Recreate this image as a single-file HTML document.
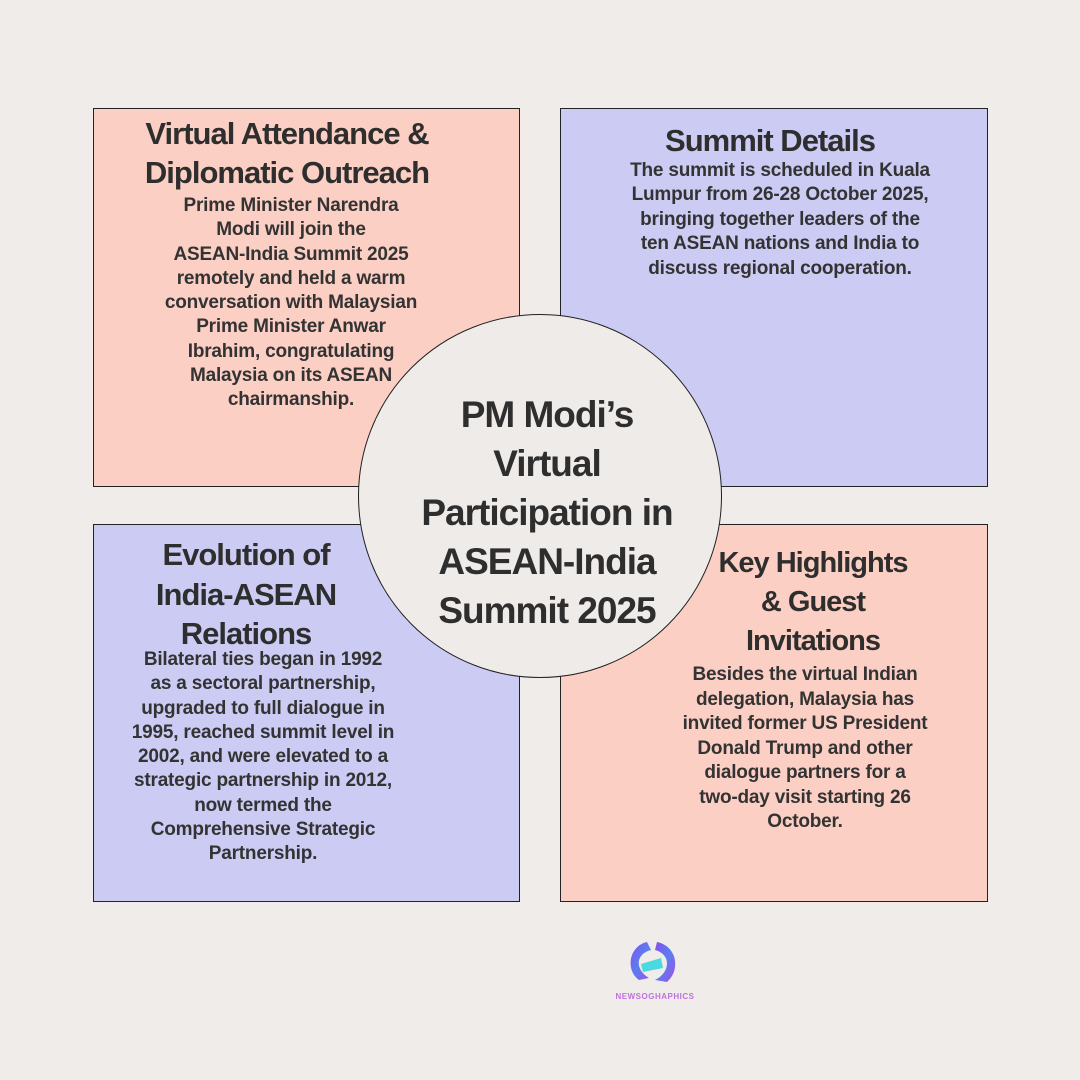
<!DOCTYPE html>
<html><head><meta charset="utf-8"><style>
body{margin:0;width:1080px;height:1080px;background:#f0ecea;position:relative;overflow:hidden;font-family:"Liberation Sans",sans-serif;color:#333}
.box{position:absolute;border:1px solid #222;box-sizing:border-box}
.s{background:#fbcfc3}.l{background:#cbcbf3}
.t{position:absolute;text-align:center;white-space:nowrap;font-family:"Liberation Sans Narrow","Liberation Sans",sans-serif;font-weight:bold;font-size:31px;letter-spacing:-1px;color:#2e2e2e}
.b{position:absolute;text-align:center;white-space:nowrap;font-weight:bold;font-size:19px;letter-spacing:-0.2px;color:#333}
.c{position:absolute;left:358px;top:314px;width:364px;height:364px;border:1.5px solid #222;border-radius:50%;background:#efebe9;box-sizing:border-box}
</style></head><body>
<div class="box s" style="left:93px;top:108px;width:427px;height:379px"></div>
<div class="box l" style="left:560px;top:108px;width:428px;height:379px"></div>
<div class="box l" style="left:93px;top:524px;width:427px;height:378px"></div>
<div class="box s" style="left:560px;top:524px;width:428px;height:378px"></div>

<div class="t" style="left:87px;width:400px;top:114px;line-height:39px">Virtual Attendance &amp;<br>Diplomatic Outreach</div>
<div class="b" style="left:91px;width:400px;top:194px;line-height:24.3px">Prime Minister Narendra<br>Modi will join the<br>ASEAN-India Summit 2025<br>remotely and held a warm<br>conversation with Malaysian<br>Prime Minister Anwar<br>Ibrahim, congratulating<br>Malaysia on its ASEAN<br>chairmanship.</div>

<div class="t" style="left:570px;width:400px;top:121px;line-height:39px">Summit Details</div>
<div class="b" style="left:580px;width:400px;top:159px;line-height:24.4px">The summit is scheduled in Kuala<br>Lumpur from 26-28 October 2025,<br>bringing together leaders of the<br>ten ASEAN nations and India to<br>discuss regional cooperation.</div>

<div class="t" style="left:46px;width:400px;top:535px;line-height:39.5px">Evolution of<br>India-ASEAN<br>Relations</div>
<div class="b" style="left:63px;width:400px;top:648px;line-height:24.3px">Bilateral ties began in 1992<br>as a sectoral partnership,<br>upgraded to full dialogue in<br>1995, reached summit level in<br>2002, and were elevated to a<br>strategic partnership in 2012,<br>now termed the<br>Comprehensive Strategic<br>Partnership.</div>

<div class="t" style="left:613px;width:400px;top:544px;line-height:39px;font-size:29px">Key Highlights<br>&amp; Guest<br>Invitations</div>
<div class="b" style="left:605px;width:400px;top:663px;line-height:24.5px">Besides the virtual Indian<br>delegation, Malaysia has<br>invited former US President<br>Donald Trump and other<br>dialogue partners for a<br>two-day visit starting 26<br>October.</div>

<div class="c"></div>
<div class="t" style="left:347px;width:400px;top:390px;line-height:49px;font-size:37px">PM Modi’s<br>Virtual<br>Participation in<br>ASEAN-India<br>Summit 2025</div>

<svg style="position:absolute;left:625px;top:938px" width="56" height="50" viewBox="0 0 56 50">
<defs><linearGradient id="g" x1="0" y1="0" x2="1" y2="1"><stop offset="0" stop-color="#8a4ff0"/><stop offset="0.5" stop-color="#5a7ef0"/><stop offset="1" stop-color="#a24fe8"/></linearGradient></defs>
<path d="M22 4 C4 8 0 32 14 42 L24 40 C10 32 10 16 26 12 Z" fill="url(#g)"/>
<path d="M32 4 C52 8 56 32 42 44 L30 42 C46 34 46 16 30 12 Z" fill="url(#g)"/>
<path d="M16 26 L36 20 L38 30 L18 34 Z" fill="#4ad9e0"/>
</svg>
<div style="position:absolute;left:615px;top:992px;width:80px;text-align:center;font-size:8px;font-weight:bold;letter-spacing:0.5px;color:#c070e0">NEWSOGHAPHICS</div>
</body></html>
